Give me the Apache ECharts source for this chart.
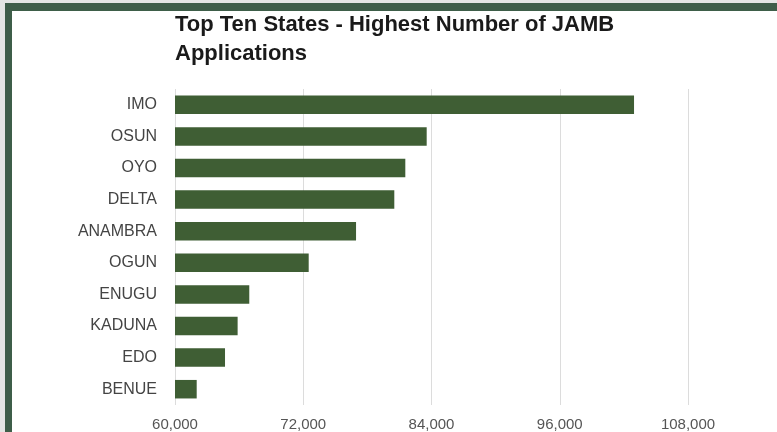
<!DOCTYPE html>
<html>
<head>
<meta charset="utf-8">
<script src="https://cdn.jsdelivr.net/npm/echarts@6/dist/echarts.min.js"></script>
<style>
html,body{margin:0;padding:0;background:#fff;}
#chart{width:777px;height:432px;}
</style>
</head>
<body>
<div id="chart"></div>
<script>
var titleText = 'Top Ten States - Highest Number of JAMB\nApplications';
var states = ['IMO','OSUN','OYO','DELTA','ANAMBRA','OGUN','ENUGU','KADUNA','EDO','BENUE'];
var applications = [102950, 83550, 81550, 80520, 76940, 72510, 66950, 65860, 64680, 62030];
var xMin = 60000, xMax = 108000, xStep = 12000;

var chart = echarts.init(document.getElementById('chart'), null, {renderer:'canvas'});
chart.setOption({
  backgroundColor: '#ffffff',
  animation: false,
  graphic: [
    {type:'rect', shape:{x:0,y:0,width:777,height:3}, style:{fill:'#e4e6e4'}, silent:true},
    {type:'rect', shape:{x:0,y:0,width:5,height:432}, style:{fill:'#e4e6e4'}, silent:true},
    {type:'rect', shape:{x:5,y:3,width:772,height:8}, style:{fill:'#3e5e49'}, silent:true},
    {type:'rect', shape:{x:5,y:3,width:7,height:429}, style:{fill:'#3e5e49'}, silent:true}
  ],
  title: {
    text: titleText,
    left: 175, top: 10, padding: 0,
    textStyle: {fontFamily:'Liberation Sans, Arial, sans-serif', fontSize:22, fontWeight:'bold', color:'#1a1a1a', lineHeight:29}
  },
  grid: {left:175, right:89, top:89, bottom:27, containLabel:false},
  xAxis: {
    type:'value', min:xMin, max:xMax, interval:xStep,
    axisLine:{show:false}, axisTick:{show:false},
    splitLine:{show:true, lineStyle:{color:'#dcdcdc', width:1}},
    axisLabel:{fontFamily:'Liberation Sans, Arial, sans-serif', fontSize:15, color:'#555', margin:12}
  },
  yAxis: {
    type:'category', data:states, inverse:true,
    axisLine:{show:false}, axisTick:{show:false}, splitLine:{show:false},
    axisLabel:{fontFamily:'Liberation Sans, Arial, sans-serif', fontSize:16, color:'#444', margin:18}
  },
  series: [{
    type:'bar', data:applications, barWidth:'58.6%',
    itemStyle:{color:'#3f5e34'}
  }]
});
</script>
</body>
</html>
